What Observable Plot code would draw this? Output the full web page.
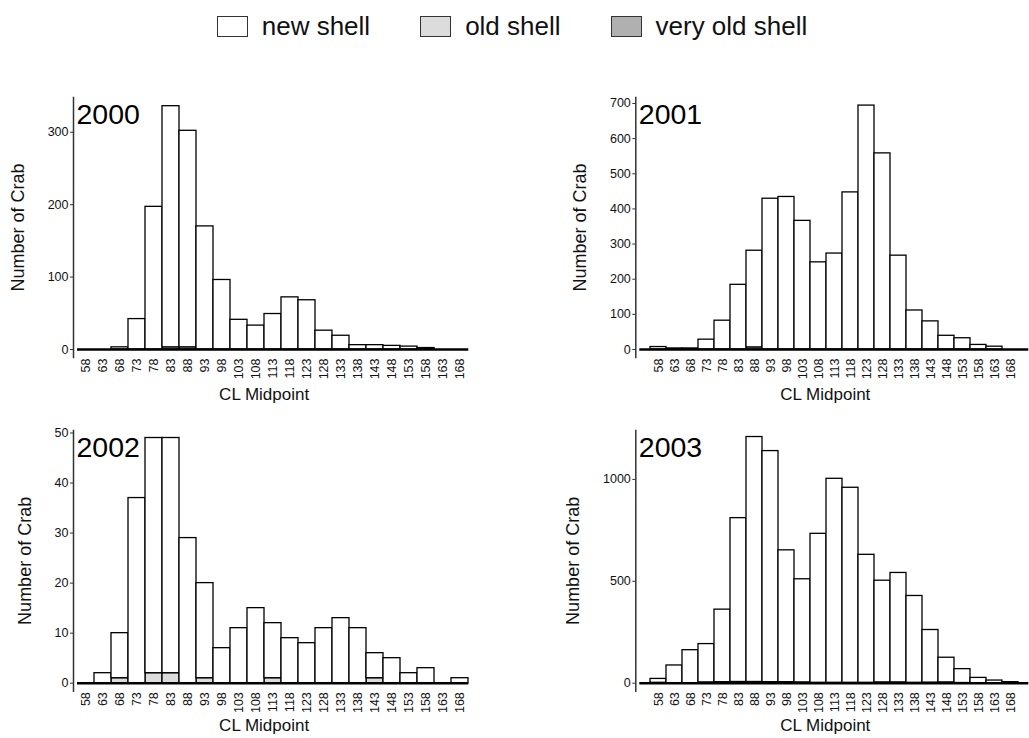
<!DOCTYPE html>
<html>
<head>
<meta charset="utf-8">
<script src="https://cdn.jsdelivr.net/npm/d3@7"></script>
<script src="https://cdn.jsdelivr.net/npm/@observablehq/plot@0.6"></script>
<style>
  html, body { margin: 0; padding: 0; background: #fff; }
  #page { position: relative; width: 1029px; height: 738px; font-family: "Liberation Sans", Arial, sans-serif; color: #111; }
  #legend { position: absolute; left: 0; top: 11px; width: 1029px; display: flex; justify-content: center; align-items: center; gap: 50px; padding-right: 5px; box-sizing: border-box; }
  .item { display: flex; align-items: center; font-size: 26px; }
  .swatch { width: 29px; height: 19px; border: 1.5px solid #333; margin-right: 14px; box-sizing: content-box; }
  .panel { position: absolute; }
</style>
</head>
<body>
<div id="page">
  <div id="legend"></div>
</div>
<script>
// Carapace-length bins (mm midpoints)
const midpoints = [58, 63, 68, 73, 78, 83, 88, 93, 98, 103, 108, 113, 118, 123, 128, 133, 138, 143, 148, 153, 158, 163, 168];

const shells = ["new shell", "old shell", "very old shell"];
const shellColors = ["#ffffff", "#dcdcdc", "#b0b0b0"];

// Counts per bin, by shell condition
const new2000 = [0, 0, 3, 42, 197, 333, 299, 170, 96, 41, 33, 49, 72, 68, 26, 19, 6, 6, 5, 4, 1, 0, 0];
const old2000 = [0, 0, 0, 0, 0, 3, 3, 0, 0, 0, 0, 0, 0, 0, 0, 0, 0, 0, 0, 0, 1, 0, 0];

const new2001 = [7, 3, 3, 28, 82, 184, 275, 429, 434, 366, 248, 273, 447, 694, 558, 267, 111, 80, 39, 32, 13, 8, 0];
const old2001 = [0, 0, 0, 0, 0, 0, 6, 0, 0, 0, 0, 0, 0, 0, 0, 0, 0, 0, 0, 0, 0, 0, 0];

const new2002 = [0, 2, 9, 37, 47, 47, 29, 19, 7, 11, 15, 11, 9, 8, 11, 13, 11, 5, 5, 2, 3, 0, 1];
const old2002 = [0, 0, 1, 0, 2, 2, 0, 1, 0, 0, 0, 1, 0, 0, 0, 0, 0, 1, 0, 0, 0, 0, 0];

const new2003 = [19, 87, 162, 188, 356, 804, 1202, 1134, 647, 506, 731, 1001, 957, 628, 499, 537, 426, 258, 121, 68, 26, 13, 5];
const old2003 = [2, 0, 0, 4, 5, 6, 6, 5, 5, 4, 2, 2, 2, 2, 4, 4, 2, 3, 4, 1, 0, 0, 0];

// y-axis tick values per year
const ticks2000 = [0, 100, 200, 300];
const ticks2001 = [0, 100, 200, 300, 400, 500, 600, 700];
const ticks2002 = [0, 10, 20, 30, 40, 50];
const ticks2003 = [0, 500, 1000];

const years = ["2000", "2001", "2002", "2003"];

// Legend
const legend = document.getElementById("legend");
shells.forEach((s, i) => {
  const item = document.createElement("div");
  item.className = "item";
  const sw = document.createElement("div");
  sw.className = "swatch";
  sw.style.background = shellColors[i];
  const label = document.createElement("span");
  label.textContent = s;
  item.appendChild(sw);
  item.appendChild(label);
  legend.appendChild(item);
});

function rows(newCounts, oldCounts) {
  const out = [];
  midpoints.forEach((m, i) => { if (oldCounts[i] > 0) out.push({mid: m, shell: "old shell", count: oldCounts[i]}); });
  midpoints.forEach((m, i) => { if (newCounts[i] > 0) out.push({mid: m, shell: "new shell", count: newCounts[i]}); });
  return out;
}

function panel({year, data, ymax, ticks, x, top, width, left, right, marginTop, marginBottom, titleDx, xTitleDy}) {
  const height = 320;
  const chart = Plot.plot({
    width, height,
    marginLeft: left, marginRight: right, marginTop, marginBottom,
    style: {fontFamily: "Liberation Sans, Arial, sans-serif", fontSize: "12px", color: "#111", background: "transparent", overflow: "visible"},
    x: {type: "band", domain: midpoints, padding: 0},
    y: {domain: [0, ymax], insetBottom: 8},
    color: {domain: shells, range: shellColors},
    marks: [
      Plot.barY(data, {x: "mid", y: "count", fill: "shell", stroke: "#000", strokeWidth: 1.3}),
      Plot.ruleY([0], {stroke: "#000", strokeWidth: 2.6}),
      Plot.frame({anchor: "left", dx: -4, stroke: "#333", strokeWidth: 1.5}),
      Plot.axisY({ticks, tickSize: 3, tickPadding: 2, dx: -4, fontSize: 12.5, tickFormat: d => String(d), label: null, stroke: "#333"}),
      Plot.axisX({tickSize: 0, tickPadding: 1, tickRotate: -90, fontSize: 12.5, label: null}),
      Plot.text([year], {frameAnchor: "top-left", textAnchor: "start", lineAnchor: "top", dx: -1, dy: 6, fontSize: 28.5, fill: "#000"}),
      Plot.text(["Number of Crab"], {frameAnchor: "left", textAnchor: "middle", lineAnchor: "middle", rotate: -90, dx: titleDx, fontSize: 18, fill: "#111"}),
      Plot.text(["CL Midpoint"], {frameAnchor: "bottom", textAnchor: "middle", lineAnchor: "middle", dx: -9, dy: xTitleDy, fontSize: 17, fill: "#111"})
    ]
  });
  // tick labels size
  d3.select(chart).selectAll("g").filter(function () {
    const a = this.getAttribute("aria-label") || "";
    return a.includes("tick label");
  }).attr("font-size", 12.5).selectAll("text").attr("font-size", null);
  chart.classList.add("panel");
  chart.style.left = x + "px";
  chart.style.top = top + "px";
  document.getElementById("page").appendChild(chart);
}

panel({year: years[0], data: rows(new2000, old2000), ymax: 348, ticks: ticks2000,
  x: 0, top: 90, width: 480, left: 77, right: 11.7, marginTop: 7, marginBottom: 53, titleDx: -59.5, xTitleDy: 37});
panel({year: years[1], data: rows(new2001, old2001), ymax: 717, ticks: ticks2001,
  x: 540, top: 90, width: 489, left: 99.3, right: 0.7, marginTop: 7, marginBottom: 53, titleDx: -59.3, xTitleDy: 37});
panel({year: years[2], data: rows(new2002, old2002), ymax: 50.5, ticks: ticks2002,
  x: 0, top: 420, width: 480, left: 77, right: 11.7, marginTop: 10, marginBottom: 49.3, titleDx: -52, xTitleDy: 34});
panel({year: years[3], data: rows(new2003, old2003), ymax: 1240, ticks: ticks2003,
  x: 540, top: 420, width: 489, left: 99.3, right: 0.7, marginTop: 10, marginBottom: 49.3, titleDx: -67, xTitleDy: 34});
</script>
</body>
</html>
